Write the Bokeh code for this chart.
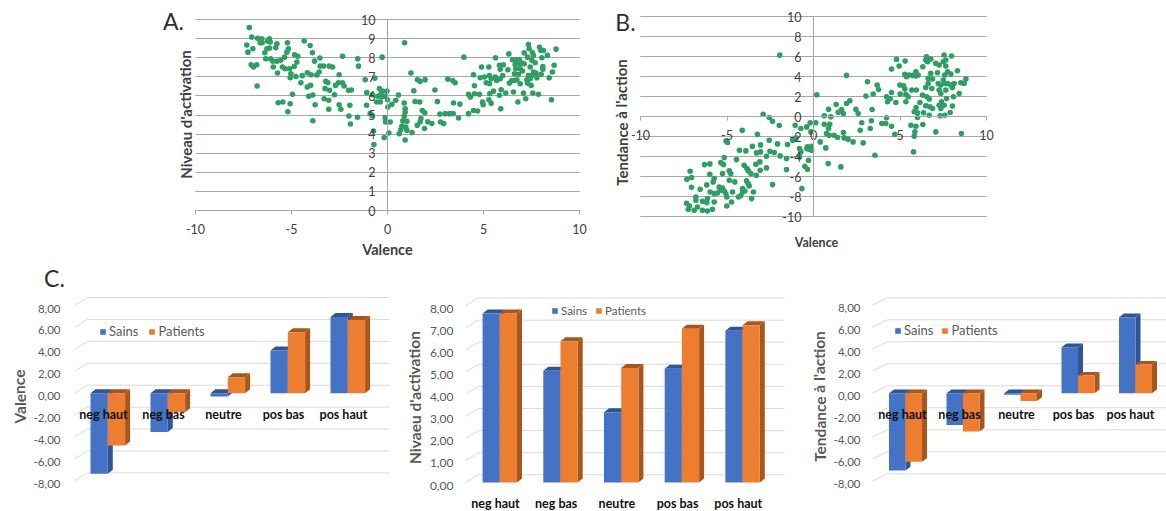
from bokeh.plotting import figure
from bokeh.layouts import column, row
from bokeh.models import (Range1d, LinearAxis, FixedTicker, Label, Legend, LegendItem)
from bokeh.embed import file_html
from bokeh.resources import INLINE

# ---------- scatter data: (valence, activation) ----------
a_x = [-7.2,-7.33,-7.27,-7.07,-7.01,-7.1,-6.98,-6.81,-6.79,-6.77,-6.55,-6.63,-6.53,-6.15,-6.25,-6.11,-6.28,-6.15,-6.39,-6.34,-6.09,-5.97,-5.95,-5.76,-5.82,-5.76,-5.56,-5.36,-5.73,-5.47,-5.33,-5.21,-5.16,-5.24,-5.1,-5.03,-4.86,-5.07,-4.77,-4.72,-4.84,-4.67,-4.34,-4.03,-3.91,-3.8,-3.52,-4.44,-4.17,-3.98,-3.68,-3.56,-3.51,-3.33,-3.04,-2.86,-2.34,-1.55,-1.51,-2.52,-4.51,-4.18,-4.01,-4.1,-3.89,-4.95,-5.69,-5.45,-5.07,-5.19,-3.77,-3.89,-3.21,-3.11,-3.25,-3.02,-3.3,-3.06,-3.06,-2.76,-2.71,-2.55,-2.34,-2.26,-2.03,-1.88,-2.52,-2.43,-1.96,-2.01,-1.93,-1.56,-1.16,-0.66,-1.08,-0.78,-1.09,-0.9,-0.8,-0.73,-0.71,-0.28,-0.42,-0.26,-0.03,-0.33,-0.5,-0.3,-0.1,-0.56,-0.38,0.0,0.02,0.23,0.43,0.57,-0.12,-0.1,0.14,0.07,-0.17,0.89,1.22,1.37,1.56,1.7,1.96,2.47,0.87,0.92,0.92,0.87,0.8,1.01,0.75,0.95,0.69,0.61,1.01,0.92,1.28,1.44,1.68,1.81,1.94,1.74,1.7,1.55,1.93,2.1,2.31,2.6,2.73,2.76,2.93,3.0,3.23,3.42,3.14,3.4,3.52,3.44,3.77,3.7,3.98,4.22,4.22,4.32,4.48,4.53,4.53,4.48,4.69,4.79,4.95,4.98,4.9,4.83,5.05,5.28,5.31,5.14,5.31,5.4,5.63,5.61,5.33,5.52,5.28,5.4,5.83,5.9,5.69,5.87,5.83,6.04,5.87,6.0,5.92,6.16,6.32,6.27,6.35,6.48,6.56,6.79,6.51,6.7,6.86,6.65,6.88,6.68,7.0,7.12,6.61,6.82,6.91,7.03,6.74,6.91,6.6,7.08,7.2,7.12,7.34,7.38,7.55,7.6,7.29,7.52,7.69,7.43,7.6,7.34,7.52,7.73,7.26,7.43,7.78,7.29,7.48,7.57,7.86,7.92,7.99,8.12,8.33,8.04,8.09,8.09,8.0,8.42,8.59,8.68,8.78,8.54]
a_y = [9.58,8.66,8.29,9.08,8.47,7.63,7.51,7.63,6.52,9.02,8.99,8.78,8.78,8.99,8.87,8.82,8.47,8.5,8.26,7.94,7.94,7.82,7.51,8.73,8.52,7.82,7.86,8.03,7.2,7.51,7.42,8.78,8.47,8.29,7.42,7.16,7.54,6.95,7.02,7.77,8.15,8.07,8.87,8.64,8.26,7.82,7.98,7.06,7.21,7.11,7.09,7.25,7.56,7.56,7.56,7.51,8.07,7.94,7.56,7.11,6.69,6.46,6.55,5.98,6.05,6.08,5.64,5.68,5.59,5.17,5.54,4.7,6.76,6.69,6.38,6.29,5.85,5.77,5.3,6.06,6.55,6.69,6.69,6.52,6.29,6.31,5.54,5.3,5.51,4.95,4.53,4.88,6.85,6.93,6.17,6.06,5.51,5.07,4.98,4.16,3.45,8.03,6.38,6.25,6.25,6.12,5.98,5.94,5.98,5.68,5.68,5.8,5.42,5.56,5.77,6.05,4.86,4.63,4.63,4.06,3.82,8.78,7.2,6.27,6.85,6.76,6.85,6.31,5.63,5.33,5.16,4.93,4.69,4.67,4.41,4.37,4.23,4.02,4.2,3.69,4.08,5.71,5.68,5.24,5.12,4.81,4.63,4.46,4.29,4.65,4.55,5.71,5.05,4.63,4.55,5.07,5.07,5.07,6.88,6.81,6.69,5.63,5.57,4.84,8.03,5.07,6.08,5.94,7.11,6.53,6.11,5.24,5.21,6.08,5.68,5.54,7.51,6.95,6.99,7.51,7.07,6.69,6.64,6.9,8.0,6.99,6.11,6.25,5.8,5.61,6.03,5.33,6.81,6.9,7.6,7.63,7.39,7.07,6.32,6.15,8.2,7.37,6.67,6.81,6.2,5.68,7.89,7.89,7.89,7.65,7.68,7.42,7.72,7.68,7.16,7.13,7.42,7.3,6.85,6.64,6.81,6.15,5.85,8.26,8.69,8.47,8.26,8.12,8.03,7.86,7.74,7.51,7.25,7.07,7.07,7.2,6.85,6.9,6.95,6.67,6.55,6.15,6.08,8.55,8.38,8.38,8.12,8.0,7.54,7.39,7.13,6.95,7.25,7.6,8.45,5.8]

# ---------- scatter data: (valence, action tendency) ----------
b_x = [-1.95,0.19,1.91,-2.91,-2.56,-2.37,-1.98,-4.12,-3.24,-2.56,-5.05,-4.97,-3.53,-3.06,-2.08,-1.5,-1.21,-1.02,-1.06,-0.73,-0.39,-0.19,0.13,-0.15,-4.28,-3.91,-3.29,-3.06,-2.52,-2.27,-2.72,-1.93,-1.56,-0.81,-0.73,-0.81,-0.35,-0.12,-0.25,-0.39,-0.1,-4.45,-5.36,-5.16,-5.2,-6.3,-5.99,-7.13,-7.05,-7.32,-5.99,-5.74,-5.8,-6.17,-6.55,-7.05,-6.8,-6.8,-7.34,-7.17,-7.24,-6.9,-6.71,-6.42,-6.13,-5.84,-6.42,-6.13,-6.17,-5.74,-5.97,-5.74,-5.55,-5.39,-5.45,-5.26,-5.16,-5.07,-5.01,-5.01,-4.74,-4.68,-4.87,-4.55,-5.26,-4.87,-4.78,-4.34,-4.2,-4.1,-4.1,-3.97,-3.87,-3.78,-3.72,-3.47,-3.58,-4.01,-3.85,-3.76,-3.62,-3.31,-3.33,-3.1,-3.08,-2.72,-2.37,-1.56,-0.67,-0.5,-0.35,-0.29,0.85,1.58,0.39,0.71,0.62,0.62,0.87,1.0,0.75,0.91,0.87,0.94,1.19,1.39,1.73,1.77,2.0,2.29,2.87,1.31,1.43,1.62,1.73,1.91,2.1,2.45,2.58,2.79,2.7,3.03,3.12,3.45,3.68,3.76,3.39,3.35,3.28,3.55,3.95,4.18,4.22,4.51,4.7,4.22,4.28,4.43,4.51,4.76,4.51,4.8,4.95,5.3,4.99,5.2,5.28,5.01,5.34,5.47,5.34,5.28,5.38,5.53,5.74,5.92,5.92,6.05,5.68,5.95,6.15,5.93,5.82,6.01,6.01,5.63,5.92,5.86,5.82,5.78,6.32,6.32,6.49,6.53,6.59,6.78,6.3,6.49,6.55,6.63,6.63,6.69,6.49,6.36,6.69,6.72,6.88,6.84,6.88,6.78,7.17,7.07,7.26,7.55,7.98,7.65,7.5,7.65,7.59,7.75,7.94,8.32,7.5,7.61,7.21,7.36,7.75,7.94,8.03,8.13,8.52,8.81,8.71,8.42,8.09,7.69,7.26,7.36,7.65,7.4,7.26,7.36,7.55,8.03,7.9,7.32,7.59,7.07,8.55]
b_y = [6.14,2.17,4.11,0.23,-0.1,-0.47,-0.9,-1.37,-1.77,-2.37,-2.44,-2.6,-2.97,-2.84,-2.74,-2.8,-2.37,-2.14,-0.87,-1.2,-1.04,-0.63,-0.63,-1.54,-3.37,-3.44,-3.64,-3.54,-3.47,-3.61,-3.97,-3.94,-4.21,-3.21,-3.54,-4.04,-3.04,-2.97,-3.27,-3.21,-3.37,-4.31,-4.61,-4.11,-4.81,-4.81,-4.74,-5.48,-6.11,-6.28,-5.78,-6.21,-6.54,-6.84,-7.28,-7.08,-8.05,-8.38,-8.68,-8.95,-9.28,-9.38,-9.05,-9.38,-9.45,-9.28,-8.48,-8.21,-8.61,-8.55,-7.55,-7.71,-7.65,-7.38,-7.05,-7.15,-7.45,-7.71,-8.05,-8.95,-8.55,-7.55,-6.38,-6.54,-5.71,-5.44,-5.71,-8.05,-7.91,-7.55,-7.21,-7.45,-6.44,-6.71,-6.95,-7.55,-8.21,-4.87,-5.21,-5.44,-5.71,-5.88,-4.77,-4.54,-5.38,-5.14,-6.81,-5.31,-7.21,-4.97,-5.28,-4.37,-4.71,-5.04,-2.54,-3.14,-0.77,0.07,0.73,-0.03,-1.7,-1.87,-1.2,-0.77,-1.87,-2.1,-1.6,-2.14,-2.27,-2.54,-2.64,1.2,0.43,0.7,0.3,1.3,1.57,0.73,0.3,-0.63,-1.37,2.04,3.47,2.24,3.14,2.7,0.7,-0.43,-1.2,-3.87,-0.7,-0.7,-0.13,-0.97,-1.77,1.97,1.47,1.77,2.4,1.4,4.74,5.71,5.04,5.54,3.14,3.07,2.74,2.24,2.2,1.97,1.47,4.21,3.97,4.14,4.11,4.47,4.04,4.14,2.64,2.64,1.4,0.9,0.47,0.37,-0.1,-0.87,-0.97,-1.54,-1.97,-3.54,-0.8,4.97,5.64,5.98,5.48,5.74,2.14,2.9,1.97,3.81,3.3,1.74,1.07,0.37,0.13,0.97,0.8,2.8,3.74,4.31,4.37,5.31,5.14,6.14,6.04,5.64,5.48,5.04,4.14,4.47,4.24,4.57,3.64,3.3,3.3,3.14,3.3,3.14,2.9,3.3,3.37,3.74,3.3,2.3,1.97,1.8,2.64,2.3,2.64,1.47,1.13,0.8,1.13,1.04,0.4,0.07,0.13,-1.54,-1.7]

# ---------- bar data ----------
categories = ["neg haut", "neg bas", "neutre", "pos bas", "pos haut"]
valence_sains = [-7.35, -3.55, -0.3, 3.9, 6.95]
valence_patients = [-4.77, -1.73, 1.46, 5.56, 6.69]
activation_sains = [7.65, 5.06, 3.18, 5.15, 6.87]
activation_patients = [7.65, 6.39, 5.18, 6.96, 7.12]
action_sains = [-7.03, -2.9, -0.15, 4.18, 6.9]
action_patients = [-6.24, -3.48, -0.7, 1.6, 2.6]
ticks_bipolar = [-8, -6, -4, -2, 0, 2, 4, 6, 8]
ticks_activation = [0, 1, 2, 3, 4, 5, 6, 7, 8]

FONT = "Lato"
GREEN = "#2f9e62"
AXIS_GREY = "#a6a6a6"
BLUE, BLUE_D = "#4472c4", "#2f5597"
ORANGE, ORANGE_D = "#ed7d31", "#a9561c"
TXT = "#404040"
TXT_C = "#595959"


def bare_figure(box, xr, yr):
    L, T, R, B = box
    p = figure(width=R - L, height=B - T, output_backend="svg", toolbar_location=None,
               x_range=Range1d(*xr), y_range=Range1d(*yr),
               min_border_left=0, min_border_right=0, min_border_top=0, min_border_bottom=0)
    p.outline_line_color = None
    return p


def scatter_panel(xs, ys, box, frame, yticks, letter, ylab, xlab, xlab_size):
    L, T, R, B = box
    fl, ft, fr, fb = frame
    ylo, yhi = yticks[0], yticks[-1]
    to_x = lambda px: -10 + 20 * (px - fl) / (fr - fl)
    to_y = lambda py: yhi - (yhi - ylo) * (py - ft) / (fb - ft)
    p = bare_figure(box, (to_x(L), to_x(R)), (to_y(B), to_y(T)))
    p.xgrid.visible = False
    p.ygrid.grid_line_color = AXIS_GREY
    p.ygrid.grid_line_width = 1
    p.ygrid.cross_bounds = (-10, 10)
    for ax, tk, bd in ((p.xaxis[0], [-10, -5, 0, 5, 10], (-10, 10)), (p.yaxis[0], yticks, (ylo, yhi))):
        ax.ticker = FixedTicker(ticks=tk)
        ax.major_label_overrides = {t: str(t) for t in tk}
        ax.bounds = bd
        ax.axis_line_color = AXIS_GREY
        ax.major_tick_line_color = None
        ax.minor_tick_line_color = None
        ax.major_tick_out = 0
        ax.major_tick_in = 0
        ax.major_label_text_font = FONT
        ax.major_label_text_font_size = "12.5px"
        ax.major_label_text_color = TXT
    p.yaxis[0].fixed_location = 0
    p.yaxis[0].major_label_standoff = 12
    p.xaxis[0].fixed_location = 0
    p.xaxis[0].major_label_standoff = 9
    p.xaxis[0].major_tick_line_color = AXIS_GREY
    p.xaxis[0].major_tick_out = 4
    p.scatter(xs, ys, size=5.6, color=GREEN, line_color=None)

    def put(text, px, py, **kw):
        p.add_layout(Label(x=to_x(px), y=to_y(py), text=text, text_font=FONT, text_align="center",
                           text_baseline="middle", **kw))
    put(letter[0], letter[1], letter[2], text_font_size="23px", text_color="#303030")
    put(ylab[0], ylab[1], ylab[2], text_font_size="15px", text_font_style="bold",
        text_color=TXT, angle=1.5708)
    put(xlab[0], xlab[1], xlab[2], text_font_size=xlab_size, text_font_style="bold",
        text_color=TXT)
    return p


def bar_panel(sains, patients, ticks, g):
    L, T, R, B = g["box"]
    fl, fr = g["grid_x"]
    xc, step = g["xc"], g["step"]
    y0, ppu = g["y0"], g["ppu"]
    to_x = lambda px: (px - xc) / step
    to_y = lambda py: (y0 - py) / ppu
    p = bare_figure(g["box"], (to_x(L), to_x(R)), (to_y(B), to_y(T)))
    p.xaxis.visible = False
    p.yaxis.visible = False
    p.grid.visible = False

    # grid: floor diagonal then back wall
    gap = g["gap"] / ppu
    gx = to_x(fl + g["grid_dx"])
    p.multi_line([[to_x(fl), gx, to_x(fr)] for _ in ticks],
                 [[t, t + gap, t + gap] for t in ticks],
                 line_color="#d9d9d9", line_width=1)

    # 3-D bars
    w = g["bw"] / step
    dx = g["dx"] / step
    dy = g["dy"] / ppu
    renderers = []
    for vals, off, col, dark in ((sains, -1, BLUE, BLUE_D), (patients, 0, ORANGE, ORANGE_D)):
        left = [i + off * w for i in range(len(vals))]
        right = [l + w for l in left]
        top = [max(v, 0) for v in vals]
        bot = [min(v, 0) for v in vals]
        p.patches([[r, r + dx, r + dx, r] for r in right],
                  [[b, b + dy, t + dy, t] for b, t in zip(bot, top)],
                  fill_color=dark, line_color=None)
        p.patches([[l, l + dx, r + dx, r] for l, r in zip(left, right)],
                  [[t, t + dy, t + dy, t] for t in top],
                  fill_color=dark, line_color=None)
        renderers.append(p.vbar(x=[l + w / 2 for l in left], width=w, top=top, bottom=bot,
                                fill_color=col, line_color=None))

    # value axis (labels sit 3 px below the floor line)
    p.extra_y_ranges["ticks"] = Range1d((y0 + 3 - B) / ppu, (y0 + 3 - T) / ppu)
    yax = LinearAxis(y_range_name="ticks", ticker=FixedTicker(ticks=ticks),
                     major_label_overrides={t: f"{t:.2f}".replace(".", ",") for t in ticks},
                     axis_line_color=None, major_tick_line_color=None, minor_tick_line_color=None,
                     major_tick_out=0, major_tick_in=0,
                     major_label_text_font=FONT, major_label_text_font_size=g["tick_size"],
                     major_label_text_color=TXT_C, major_label_standoff=g["standoff"],
                     fixed_location=to_x(fl))
    p.add_layout(yax, "left")

    # category labels
    lx0, lstep, ly = g["lx0"], g["lstep"], g["ly"]
    p.extra_x_ranges["cat"] = Range1d((L - lx0) / lstep, (R - lx0) / lstep)
    xax = LinearAxis(x_range_name="cat", ticker=FixedTicker(ticks=list(range(len(categories)))),
                     major_label_overrides={i: c for i, c in enumerate(categories)},
                     axis_line_color=None, major_tick_line_color=None, minor_tick_line_color=None,
                     major_tick_out=0, major_tick_in=0,
                     major_label_text_font=FONT, major_label_text_font_size="12.5px",
                     major_label_text_font_style="bold", major_label_text_color="#111111",
                     major_label_standoff=0, fixed_location=to_y(ly - 8))
    p.add_layout(xax, "below")

    # title
    tx, ty = g["title_xy"]
    p.add_layout(Label(x=to_x(tx), y=to_y(ty), text=g["title"], text_font=FONT,
                       text_font_size="15.5px", text_font_style="bold", text_color=TXT_C,
                       text_align="center", text_baseline="middle", angle=1.5708))
    if "letter" in g:
        t, lx, lyy = g["letter"]
        p.add_layout(Label(x=to_x(lx), y=to_y(lyy), text=t, text_font=FONT, text_font_size="23px",
                           text_color="#303030", text_align="center", text_baseline="middle"))

    lgx, lgy = g["legend_xy"]
    leg = Legend(items=[LegendItem(label="Sains", renderers=[renderers[0]]),
                        LegendItem(label="Patients", renderers=[renderers[1]])],
                 orientation="horizontal", location=(lgx - L, B - lgy - 8),
                 glyph_width=7, glyph_height=7, label_text_font=FONT,
                 label_text_font_size=g["leg_size"], label_text_color=TXT_C,
                 label_standoff=3, spacing=g["leg_gap"], padding=0, margin=0,
                 border_line_color=None, background_fill_alpha=0,
                 label_height=10, label_text_baseline="middle")
    p.add_layout(leg, "center")
    return p


a = scatter_panel(a_x, a_y, (0, 0, 600, 262), (195, 19, 579, 210), list(range(0, 11)),
                  ("A.", 173, 20), ("Niveau d'activation", 185, 114),
                  ("Valence", 387, 249), "14.5px")
b = scatter_panel(b_x, b_y, (600, 0, 1166, 262), (640, 16, 986, 216), list(range(-10, 11, 2)),
                  ("B.", 625, 21), ("Tendance à l'action", 621, 122),
                  ("Valence", 816, 242), "12.5px")

c1 = bar_panel(valence_sains, valence_patients, ticks_bipolar, dict(
    box=(0, 262, 400, 511), grid_x=(74, 389), xc=107.3, step=60, y0=392.7, ppu=10.96,
    gap=8, grid_dx=13, bw=17.3, dx=5, dy=4, tick_size="11.5px", standoff=14,
    lx0=103, lstep=60, ly=414, title="Valence", title_xy=(19, 396),
    letter=("C.", 54, 277), legend_xy=(99, 331), leg_size="13px", leg_gap=10))
c2 = bar_panel(activation_sains, activation_patients, ticks_activation, dict(
    box=(400, 262, 790, 511), grid_x=(465, 784), xc=499.3, step=60.7, y0=482, ppu=22.1,
    gap=7.7, grid_dx=13, bw=17.2, dx=5, dy=4, tick_size="12px", standoff=12,
    lx0=495, lstep=60.7, ly=503, title="Nivaeu d'activation", title_xy=(414, 397),
    legend_xy=(551, 309), leg_size="11.5px", leg_gap=8))
c3 = bar_panel(action_sains, action_patients, ticks_bipolar, dict(
    box=(790, 262, 1166, 511), grid_x=(872, 1166), xc=905, step=57.5, y0=392.7, ppu=11,
    gap=7.4, grid_dx=15, bw=16.5, dx=5, dy=3.7, tick_size="11.5px", standoff=12,
    lx0=902, lstep=57, ly=414, title="Tendance à l'action", title_xy=(819, 396),
    legend_xy=(894, 330), leg_size="13px", leg_gap=8))

page = column(row(a, b), row(c1, c2, c3))
open("out.html", "w").write(file_html(page, INLINE))
